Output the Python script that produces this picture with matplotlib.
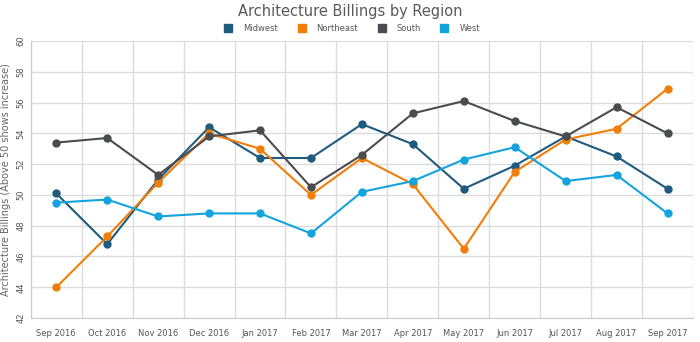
import numpy as np
import matplotlib
matplotlib.use("Agg")
import matplotlib.pyplot as plt
from matplotlib.lines import Line2D

months = ["Sep 2016", "Oct 2016", "Nov 2016", "Dec 2016", "Jan 2017", "Feb 2017",
          "Mar 2017", "Apr 2017", "May 2017", "Jun 2017", "Jul 2017", "Aug 2017",
          "Sep 2017"]
midwest = [50.1, 46.8, 51.0, 54.4, 52.4, 52.4, 54.6, 53.3, 50.4, 51.9, 53.8, 52.5, 50.4]
northeast = [44.0, 47.3, 50.8, 54.0, 53.0, 50.0, 52.4, 50.7, 46.5, 51.5, 53.6, 54.3, 56.9]
south = [53.4, 53.7, 51.3, 53.8, 54.2, 50.5, 52.6, 55.3, 56.1, 54.8, 53.8, 55.7, 54.0]
west = [49.5, 49.7, 48.6, 48.8, 48.8, 47.5, 50.2, 50.9, 52.3, 53.1, 50.9, 51.3, 48.8]

series = [("Midwest", midwest, "#1f5b7e"),
          ("Northeast", northeast, "#f07f09"),
          ("South", south, "#4a4c50"),
          ("West", west, "#14a3dc")]

fig = plt.figure(figsize=(7, 3.42), dpi=100)
ax = fig.add_axes([0.044, 0.070, 0.946, 0.810])

x = np.arange(len(months))
for name, vals, col in series:
    ax.plot(x, vals, color=col, lw=1.5, marker="o", ms=5, zorder=3)

ax.set_xlim(-0.5, len(months) - 0.5)
ax.set_ylim(42, 60)
ax.set_yticks(np.arange(42, 61, 2))
ax.set_yticklabels([str(v) for v in range(42, 61, 2)], rotation=90, va="center")
ax.set_xticks(x)
ax.set_xticklabels(months)
ax.set_xticks(np.arange(-0.5, len(months), 1), minor=True)

ax.grid(True, axis="y", color="#dcdcdc", lw=1)
ax.grid(True, axis="x", which="minor", color="#dcdcdc", lw=1)
ax.tick_params(axis="both", which="both", length=0, labelsize=6, colors="#555555")
ax.tick_params(axis="x", pad=8)
ax.tick_params(axis="y", pad=4)
for s in ax.spines.values():
    s.set_visible(False)
ax.spines["left"].set_visible(True)
ax.spines["left"].set_color("#cccccc")
ax.spines["bottom"].set_visible(True)
ax.spines["bottom"].set_color("#cccccc")

ax.set_ylabel("Architecture Billings (Above 50 shows increase)", fontsize=7,
              color="#666666", labelpad=4)

fig.text(0.5, 0.965, "Architecture Billings by Region", ha="center", va="center",
         fontsize=10.5, color="#5a5a5a")

handles = [Line2D([], [], marker="s", ls="none", color=c, ms=6) for _, _, c in series]
fig.legend(handles, [n for n, _, _ in series], loc="center", bbox_to_anchor=(0.5, 0.918),
           ncol=4, frameon=False, fontsize=6, handletextpad=0.8, columnspacing=1.8,
           labelcolor="#555555")

fig.savefig("out.png", dpi=100)
